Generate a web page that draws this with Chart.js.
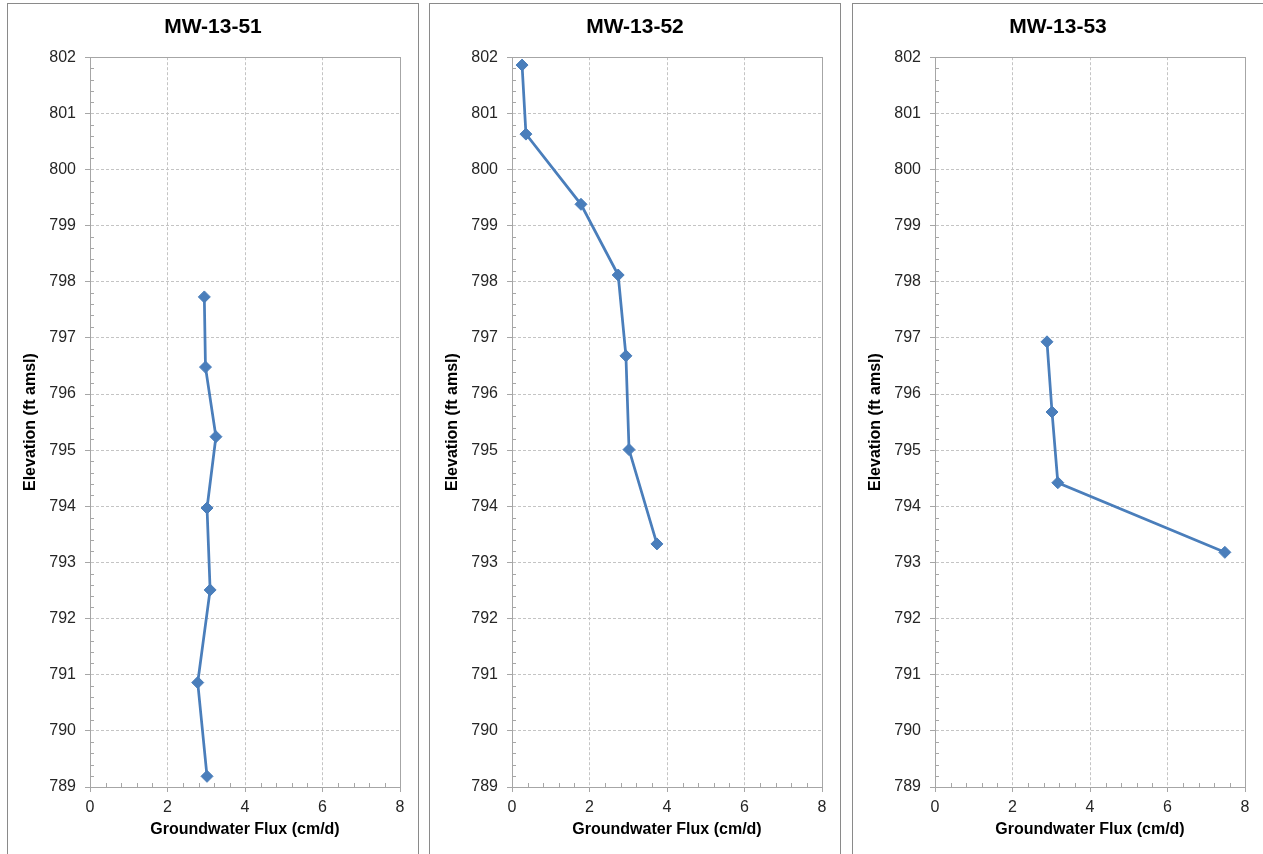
<!DOCTYPE html>
<html>
<head>
<meta charset="utf-8">
<title>Groundwater Flux Profiles</title>
<script src="https://cdn.jsdelivr.net/npm/chart.js@4.4.1/dist/chart.umd.min.js"></script>
<style>
  html, body { margin: 0; padding: 0; background: #fff; overflow: hidden; }
  .panel {
    position: absolute;
    top: 3px;
    width: 410px;
    height: 860px;
    border: 1px solid #8a8a8a;
    background: #fff;
    overflow: hidden;
  }
  .panel canvas { display: block; }
</style>
</head>
<body>
<div class="panel" style="left:7px"><canvas id="mw51"></canvas></div>
<div class="panel" style="left:429px"><canvas id="mw52"></canvas></div>
<div class="panel" style="left:852px"><canvas id="mw53"></canvas></div>

<script>
// Vertical flux profiles at the three monitoring wells
const wells = ['MW-13-51', 'MW-13-52', 'MW-13-53'];

const flux51 = [2.95, 2.98, 3.25, 3.02, 3.10, 2.78, 3.02];
const elev51 = [797.73, 796.48, 795.24, 793.97, 792.51, 790.86, 789.19];

const flux52 = [0.26, 0.36, 1.78, 2.74, 2.94, 3.02, 3.74];
const elev52 = [801.86, 800.63, 799.38, 798.12, 796.68, 795.01, 793.33];

const flux53 = [2.89, 3.02, 3.17, 7.48];
const elev53 = [796.93, 795.68, 794.42, 793.18];

const xTicks = [0, 2, 4, 6, 8];
const yTicks = [789, 790, 791, 792, 793, 794, 795, 796, 797, 798, 799, 800, 801, 802];

const BLUE = '#4a7ebb';
const AXIS = '#a6a6a6';
const GRID = '#c4c4c4';
const FONT = "'Liberation Sans', Arial, sans-serif";

// small inward ticks between the labelled ones, plus the box round the plot
const plotFrame = {
  id: 'plotFrame',
  beforeDatasetsDraw(chart) {
    const {ctx, chartArea: a, scales: {x, y}} = chart;
    ctx.save();
    ctx.strokeStyle = AXIS;
    ctx.lineWidth = 1;
    ctx.beginPath();
    for (let i = 0; i < yTicks.length - 1; i++) {
      for (let k = 1; k < 5; k++) {
        const py = Math.round(y.getPixelForValue(yTicks[i] + k * 0.2)) + 0.5;
        ctx.moveTo(a.left, py);
        ctx.lineTo(a.left + 4, py);
      }
    }
    for (let i = 0; i < xTicks.length - 1; i++) {
      for (let k = 1; k < 5; k++) {
        const px = Math.round(x.getPixelForValue(xTicks[i] + k * 0.4)) + 0.5;
        ctx.moveTo(px, a.bottom);
        ctx.lineTo(px, a.bottom - 4);
      }
    }
    ctx.stroke();
    ctx.strokeRect(Math.round(a.left) + 0.5, Math.round(a.top) + 0.5,
                   Math.round(a.width), Math.round(a.height));
    ctx.restore();
  }
};

function drawWell(id, name, flux, elev) {
  const points = flux.map((v, i) => ({x: v, y: elev[i]}));
  new Chart(document.getElementById(id), {
    type: 'scatter',
    data: {
      datasets: [{
        data: points,
        showLine: true,
        borderColor: BLUE,
        borderWidth: 2.75,
        backgroundColor: BLUE,
        pointStyle: 'rectRot',
        pointRadius: 6,
        pointHoverRadius: 6,
        pointBorderWidth: 1,
        pointBorderColor: BLUE,
        pointBackgroundColor: BLUE
      }]
    },
    options: {
      responsive: true,
      maintainAspectRatio: false,
      animation: false,
      layout: { padding: { left: 18, right: 18, top: 0, bottom: 0 } },
      plugins: {
        legend: { display: false },
        tooltip: { enabled: false },
        title: {
          display: true,
          text: name,
          color: '#000',
          font: { family: FONT, size: 21, weight: 'bold' },
          padding: { top: 11, bottom: 17 }
        }
      },
      scales: {
        x: {
          type: 'linear',
          min: xTicks[0],
          max: xTicks[xTicks.length - 1],
          afterFit(scale) { scale.height = 77; },
          afterBuildTicks(scale) { scale.ticks = xTicks.map(v => ({value: v})); },
          ticks: {
            color: '#262626',
            padding: 6,
            font: { family: FONT, size: 16 }
          },
          grid: {
            color: GRID,
            tickColor: AXIS,
            tickLength: 5,
            tickBorderDash: []
          },
          border: { color: AXIS, dash: [3, 2] },
          title: {
            display: true,
            text: 'Groundwater Flux (cm/d)',
            color: '#000',
            font: { family: FONT, size: 16, weight: 'bold' },
            padding: { top: 25, bottom: 25 }
          }
        },
        y: {
          type: 'linear',
          min: yTicks[0],
          max: yTicks[yTicks.length - 1],
          afterFit(scale) { scale.width = 64; },
          afterBuildTicks(scale) { scale.ticks = yTicks.map(v => ({value: v})); },
          ticks: {
            color: '#262626',
            padding: 9,
            font: { family: FONT, size: 16 }
          },
          grid: {
            color: GRID,
            tickColor: AXIS,
            tickLength: 5,
            tickBorderDash: []
          },
          border: { color: AXIS, dash: [3, 2] },
          title: {
            display: true,
            text: 'Elevation (ft amsl)',
            color: '#000',
            font: { family: FONT, size: 16, weight: 'bold' },
            padding: { top: -5, bottom: -5 }
          }
        }
      }
    },
    plugins: [plotFrame]
  });
}

drawWell('mw51', wells[0], flux51, elev51);
drawWell('mw52', wells[1], flux52, elev52);
drawWell('mw53', wells[2], flux53, elev53);
</script>
</body>
</html>
